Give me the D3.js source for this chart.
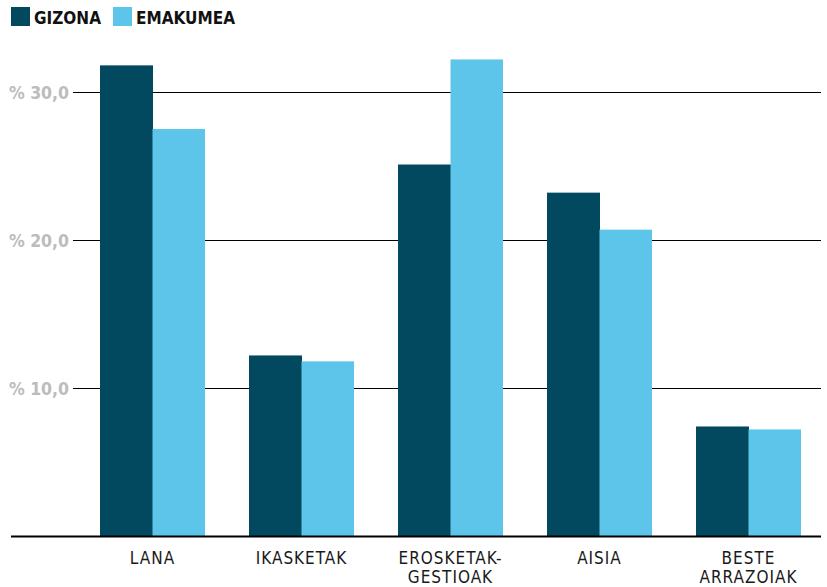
<!DOCTYPE html>
<html><head><meta charset="utf-8">
<script src="https://cdn.jsdelivr.net/npm/d3@7"></script>
<style>body{margin:0;background:#fff}svg{display:block}</style>
</head><body>
<script>
const categories = [["LANA"], ["IKASKETAK"], ["EROSKETAK-", "GESTIOAK"], ["AISIA"], ["BESTE", "ARRAZOIAK"]];
const seriesNames = ["GIZONA", "EMAKUMEA"];
const gizona = [31.8, 12.2, 25.1, 23.2, 7.4];
const emakumea = [27.5, 11.8, 32.2, 20.7, 7.2];
const tickValues = [10, 20, 30];
const tickLabels = ["% 10,0", "% 20,0", "% 30,0"];
const colors = ["#02485f", "#5ec5ea"];

const W = 827, H = 587;
const svg = d3.select("body").append("svg").attr("width", W).attr("height", H);
const font = "'DejaVu Sans Condensed', 'DejaVu Sans', sans-serif";

const keys = categories.map(c => c.join(" "));
const x = d3.scaleBand().domain(keys).range([78, 823]).paddingInner(0.2953).paddingOuter(0.1477);
const xs = d3.scaleBand().domain(seriesNames).range([0, x.bandwidth()]);
const y = d3.scaleLinear().domain([0, 10]).range([536, 388]);

// grid lines
svg.append("g").selectAll("line").data(tickValues).join("line")
  .attr("x1", 73).attr("x2", 821).attr("y1", d => Math.round(y(d)) + 0.5).attr("y2", d => Math.round(y(d)) + 0.5)
  .attr("stroke", "#000").attr("stroke-width", 1).attr("shape-rendering", "crispEdges");
svg.append("g").selectAll("text").data(tickValues).join("text")
  .attr("x", 69).attr("y", d => y(d) + 6.5).attr("text-anchor", "end")
  .attr("font-family", font).attr("font-weight", "bold").attr("font-size", 17.5)
  .attr("fill", "#bcbcbc").text((d, i) => tickLabels[i]);

const series = [gizona, emakumea];
series.forEach((vals, si) => {
  svg.append("g").selectAll("rect").data(vals).join("rect")
    .attr("x", (d, i) => x(keys[i]) + xs(seriesNames[si]))
    .attr("width", xs.bandwidth() + (si === 0 ? 0.5 : 0))
    .attr("y", d => y(d)).attr("height", d => y(0) - y(d))
    .attr("fill", colors[si]);
});

// baseline
svg.append("line").attr("x1", 11).attr("x2", 821).attr("y1", 536.5).attr("y2", 536.5)
  .attr("stroke", "#000").attr("stroke-width", 2.2);

// category labels
const lab = svg.append("g").selectAll("text").data(categories).join("text")
  .attr("text-anchor", "middle").attr("font-family", font).attr("font-size", 17)
  .attr("letter-spacing", 1).attr("fill", "#1a1a1a")
  .attr("x", (d, i) => x(keys[i]) + x.bandwidth() / 2).attr("y", 564);
lab.selectAll("tspan").data(d => d).join("tspan")
  .attr("x", function() { return this.parentNode.getAttribute("x"); })
  .attr("dy", (d, i) => i === 0 ? 0 : 19).text(d => d);

// legend
const lg = [{x: 11, tx: 34}, {x: 113, tx: 136}];
seriesNames.forEach((n, i) => {
  svg.append("rect").attr("x", lg[i].x).attr("y", 7).attr("width", 19).attr("height", 19).attr("fill", colors[i]);
  svg.append("text").attr("x", lg[i].tx).attr("y", 24).attr("font-family", font)
    .attr("font-weight", "bold").attr("font-size", 17).attr("fill", "#111").text(n);
});
</script>
</body></html>
